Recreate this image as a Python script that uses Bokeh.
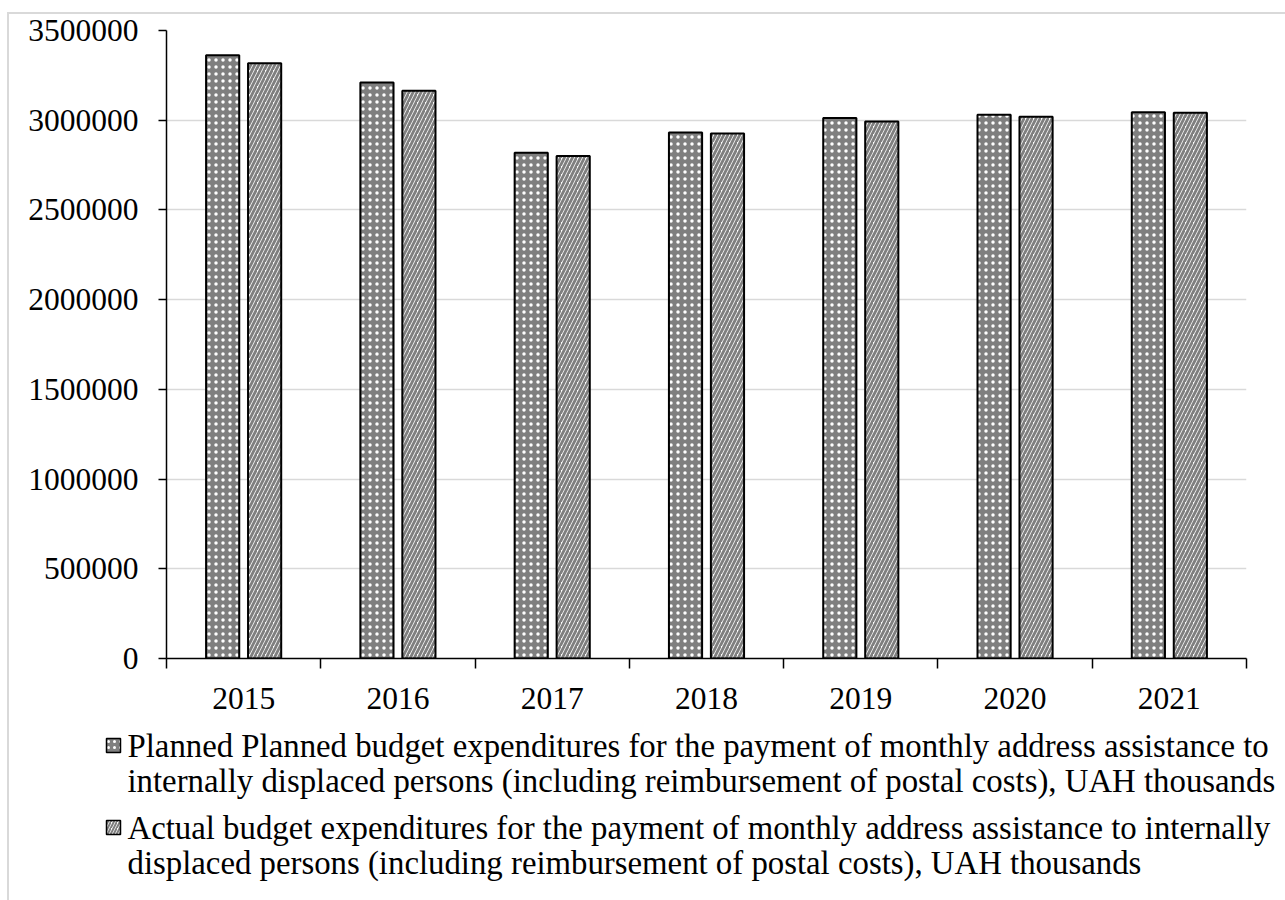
from bokeh.plotting import figure
from bokeh.models import Range1d, FixedTicker, NumeralTickFormatter
from bokeh.layouts import column
from bokeh.embed import file_html
from bokeh.resources import INLINE
from bokeh.core.properties import value

years = ["2015", "2016", "2017", "2018", "2019", "2020", "2021"]
planned = [3362000, 3210000, 2818000, 2931000, 3013000, 3030000, 3045000]
actual = [3318000, 3164000, 2800000, 2926000, 2993000, 3019000, 3041000]
y_ticks = [0, 500000, 1000000, 1500000, 2000000, 2500000, 3000000, 3500000]
legend_planned = ["Planned Planned budget expenditures for the payment of monthly address assistance to",
                  "internally displaced persons (including reimbursement of postal costs), UAH thousands"]
legend_actual = ["Actual budget expenditures for the payment of monthly address assistance to internally",
                 "displaced persons (including reimbursement of postal costs), UAH thousands"]

FONT = "Liberation Serif"
FS = "31.5px"
LFS = "32.8px"

P_STYLE = dict(fill_color="#7f7f7f", hatch_pattern="dot", hatch_color="white", hatch_scale=7, hatch_weight=0.1)
A_STYLE = dict(fill_color="white", hatch_pattern="right_diagonal_line", hatch_color="#7f7f7f",
               hatch_scale=8, hatch_weight=2.8)

p = figure(width=1276, height=700, x_range=Range1d(0, len(years)), y_range=Range1d(0, 3500000),
           output_backend="svg", toolbar_location=None,
           min_border_left=157, min_border_right=39, min_border_top=16, min_border_bottom=56)
p.outline_line_color = None
p.background_fill_color = "white"
p.border_fill_color = "white"

idx = list(range(len(years)))
xp = [i + 0.5 - 0.136 for i in idx]
xa = [i + 0.5 + 0.136 for i in idx]

p.vbar(x=xp, top=planned, bottom=0, width=0.215, line_color="black", line_width=2, **P_STYLE)
p.vbar(x=xa, top=actual, bottom=0, width=0.215, line_color="black", line_width=2, **A_STYLE)

p.xgrid.visible = False
p.ygrid.grid_line_color = "#d9d9d9"
p.ygrid.grid_line_width = 1.5

xa_ = p.xaxis[0]
xa_.ticker = FixedTicker(ticks=[i + 0.5 for i in idx], minor_ticks=list(range(len(years) + 1)))
xa_.major_label_overrides = {i + 0.5: years[i] for i in idx}
xa_.major_tick_out = 0
xa_.major_tick_in = 0
xa_.minor_tick_out = 10
xa_.minor_tick_in = 0
xa_.minor_tick_line_color = "black"
xa_.minor_tick_line_width = 1.5
xa_.axis_line_color = "black"
xa_.axis_line_width = 1.5
xa_.major_label_text_font = FONT
xa_.major_label_text_font_size = FS
xa_.major_label_text_color = "black"
xa_.major_label_standoff = 19

ya = p.yaxis[0]
ya.ticker = FixedTicker(ticks=y_ticks)
ya.formatter = NumeralTickFormatter(format="0")
ya.major_tick_out = 8
ya.major_tick_in = 0
ya.major_tick_line_color = "black"
ya.major_tick_line_width = 1.5
ya.minor_tick_out = 0
ya.minor_tick_in = 0
ya.axis_line_color = "black"
ya.axis_line_width = 1.5
ya.major_label_text_font = FONT
ya.major_label_text_font_size = FS
ya.major_label_text_color = "black"
ya.major_label_standoff = 20

# legend panel (separate root, so its frame is not aligned with the chart's frame)
lf = figure(width=1276, height=186, x_range=Range1d(0, 1276), y_range=Range1d(186, 0),
            output_backend="svg", toolbar_location=None, min_border=0,
            x_axis_location=None, y_axis_location=None)
lf.grid.visible = False
lf.outline_line_color = None
lf.background_fill_color = "white"
lf.border_fill_color = "white"

lf.rect(x=[104], y=[31], width=14, height=14, line_color="black", line_width=1.5,
        **dict(P_STYLE, hatch_scale=6))
lf.rect(x=[104], y=[113], width=14, height=14, line_color="black", line_width=1.5,
        **dict(A_STYLE, hatch_scale=6, hatch_weight=2))

lines = legend_planned + legend_actual
lf.text(x=[118, 118, 118, 118], y=[31, 66, 113, 148], text=lines,
        text_font=value(FONT), text_font_size=LFS, text_baseline="middle", text_color="black")

root1 = column(p, spacing=0, margin=(12, 0, 0, 7),
               styles={"border-top": "2px solid #d9d9d9", "border-left": "2px solid #d9d9d9"})
root2 = column(lf, spacing=0, margin=(0, 0, 0, 7),
               styles={"border-left": "2px solid #d9d9d9"})

open("out.html", "w").write(file_html([root1, root2], INLINE))
